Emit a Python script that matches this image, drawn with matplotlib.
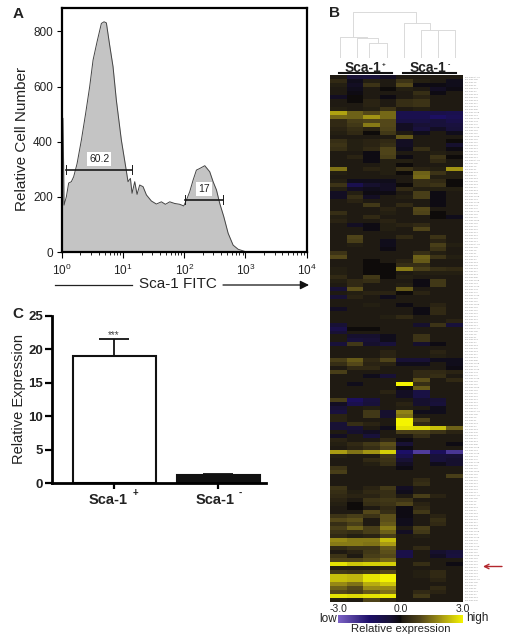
import numpy as np
import matplotlib
matplotlib.use("Agg")
import matplotlib.pyplot as plt
from matplotlib.colors import LinearSegmentedColormap

plt.rcParams['font.family'] = ['Liberation Sans', 'DejaVu Sans']

W, H = 509, 638
TEXT = '#222222'

# panel A, flow histogram (log10 of FITC intensity, cell count)
fitc_log = [0.0, 0.016, 0.027, 0.033, 0.071, 0.109, 0.153, 0.191, 0.246, 0.317, 0.387, 0.453, 0.508, 0.573,
            0.644, 0.688, 0.726, 0.780, 0.835, 0.889, 0.971, 1.042, 1.08, 1.119, 1.146, 1.19, 1.228, 1.271,
            1.326, 1.381, 1.462, 1.544, 1.626, 1.692, 1.763, 1.844, 1.926, 1.992, 2.035, 2.09, 2.145, 2.199,
            2.254, 2.336, 2.417, 2.472, 2.527, 2.581, 2.647, 2.718, 2.799, 2.881, 2.99, 3.127]
cell_count = [0, 485, 309, 170, 200, 250, 255, 273, 320, 406, 503, 600, 696, 762,
              829, 835, 831, 750, 672, 551, 406, 309, 255, 267, 213, 255, 209, 243,
              237, 207, 185, 174, 182, 173, 182, 176, 173, 167, 188, 219, 261, 297,
              303, 313, 291, 255, 225, 176, 128, 68, 25, 10, 2, 0]
gate_names = ['60.2', '17']
gate_lo = [0.071, 2.014]
gate_hi = [1.146, 2.63]
gate_level = [297, 187]
gate_label_level = [337, 228]

# panel C
bar_names = ['Sca-1', 'Sca-1']
bar_signs = ['+', '-']
bar_values = [19.0, 1.2]
bar_errors = [2.5, 0.1]

# panel B, dendrogram merges: left, right, height, left start, right start
dendro_merges = [(2.34, 3.43, 44, 0, 0), (1.62, 2.9, 59, 0, 44), (0.6, 2.2, 64, 0, 59),
                 (5.47, 6.49, 84, 0, 0), (6.49, 7.51, 84, 0, 0), (4.43, 6.0, 104, 0, 84),
                 (1.4, 5.2, 137, 64, 104)]
mir_ids = ['let-7a', '15b', '16', '21', '23a', '24', '26a', '27b', '29a', '30c', '92a', '99b', '125b', '126',
           '130a', '143', '145', '146a', '150', '155', '181a', '191', '195', '221', '222', '320', '424', '451']

# panel B, heatmap rows, columns are 4 Sca-1+ then 4 Sca-1-
expression = np.array([
    [.1, -.5, -.6, -.3, .1, .1, .1, .1], [.4, -.2, .2, .1, .6, .2, .1, -.2], [.2, -.3, .6, .1, 1.0, -.1, -.1, -.2],
    [.1, -.2, .1, 0, .2, .1, -.3, -.1], [.1, -.1, .1, .1, .1, .5, -.1, .1], [-.3, 0, .1, -.1, .1, .3, .1, .1],
    [.1, 0, .3, .1, .5, .6, .1, .1], [.1, .1, .3, .1, .5, .6, .1, .1], [.2, .1, .2, .6, .1, .2, .1, .1],
    [2.1, 1.3, 1.0, 1.4, -1, -1, -.9, -1], [1.4, 1.3, 1.9, 1.4, -1, -1, -1.4, -1.1], [.4, .8, .9, 1.0, -.8, -.8, -.6, -.9],
    [.4, .7, 1.6, 1, -.3, -.5, -.6, -.7], [.3, .5, .3, .9, -.3, -.7, -.3, -.6], [.2, .4, 0, .7, .1, -.2, .1, -.2],
    [.1, .1, .1, .1, 1.2, .1, .1, .1], [.5, .2, .3, .4, -.3, .1, .1, 0], [.6, .2, .3, .5, -.3, .1, .1, -.4],
    [.5, .2, .4, .9, -.2, .5, .1, -.1], [.1, .1, -.1, .9, .1, .1, .2, .1], [.1, .3, -.1, .8, -.1, .1, .6, 0],
    [.1, .1, -.1, .2, .2, .1, .4, .1], [.1, .1, .1, .2, 0, .1, .1, .1], [1.5, .1, .3, .2, .6, .3, .2, 1.9],
    [.2, .1, .1, .2, 0, 1.3, .6, .2], [.1, .1, .1, .1, .1, 1.4, .2, .2], [.2, -.2, -.2, -.2, .1, .5, .4, 0],
    [.6, -1, -.4, -.3, 0, .5, .6, 0], [.2, -.3, -.2, -.3, .4, .2, .2, .2], [-.3, .2, -.1, -.1, .1, .8, -.1, .1],
    [-.3, .5, -.3, .1, .2, .8, -.1, .1], [.1, .3, .1, .1, .1, .1, -.1, .1], [.1, .1, .7, .1, .4, .1, -.1, .1],
    [.1, .1, .1, .3, .1, 1.0, .1, .1], [.5, .1, .1, .2, .1, .9, 0, .1], [.2, .1, .4, .1, .1, .1, 0, -.2],
    [.3, .1, .1, .3, .1, .1, .1, .1], [.1, -.3, -.1, .2, .3, .4, .1, .1], [.1, .1, -.1, .2, .1, .9, .1, .1],
    [.1, .1, .1, .1, .1, .1, .1, .1], [.1, .9, .1, .1, .4, .1, .6, .1], [.1, .8, .1, -.2, .1, .1, .3, .1],
    [.1, .2, .1, -.2, .1, .1, .8, .2], [.1, .1, .1, -.1, .1, .1, .6, .1], [.6, .1, .1, .1, .1, .5, .2, .1],
    [1.0, .1, .1, .1, .1, 1.3, .6, .2], [.1, .1, 0, .1, .3, 1.2, .1, .1], [.1, .1, 0, 0, .5, .5, .1, .1],
    [.2, .1, 0, 0, 1.6, .8, .5, .4], [.2, .1, 0, 0, .1, .2, .2, .2], [.4, .1, .7, 0, .2, .1, .1, .1],
    [.2, .4, .5, .1, .1, -.1, .7, .1], [.1, .4, .1, .1, .2, -.1, .7, .1], [-.5, 1.1, .1, .1, 1.2, .1, .1, .1],
    [.1, .2, .3, .3, 0, .3, .1, .1], [-.5, .3, .1, -.2, .1, .1, .1, .1], [.1, .1, .1, .1, .1, .1, .1, .1],
    [.1, .1, .2, .1, -.1, .1, .3, .1], [-.3, .1, .1, .1, .1, -.1, .4, .1], [.1, .1, .1, .1, .1, -.1, .4, .1],
    [.1, .1, .1, .2, .4, .1, .1, .1], [.1, .1, .1, .1, .1, .1, .1, .3], [-.5, .1, .1, .1, .1, -.4, .6, -.6],
    [-.9, 0, 0, .1, .1, .1, .1, .1], [-.5, .1, .1, .1, .1, .1, .1, .1], [.1, -.4, -.4, -.2, .1, .6, .1, .1],
    [.1, -.6, -.5, -.2, .1, .6, .1, .1], [-.6, .7, -.4, -.6, .1, -.4, -.1, .1], [.1, .1, .1, .1, .1, .1, .1, .1],
    [.1, .1, .1, .3, .1, .1, .3, .1], [.1, .1, .1, .3, .1, .1, .2, .1], [.8, 1.2, .4, .9, -.5, -.5, -.2, -.2],
    [.5, 1.0, .3, .3, -.2, -.2, .1, -.2], [.1, .4, .4, .1, .1, .1, .1, -.1], [.8, .1, .1, .1, .1, .4, .4, .3],
    [.1, .1, -.2, -.5, .1, .4, .5, .1], [.1, .1, .1, .1, .1, 1.1, .1, .4], [.1, -.2, .1, .1, 3.0, .5, .1, .1],
    [.1, .1, .1, .1, 0, 1.2, .1, .1], [.1, .1, .1, .3, -.3, -.8, .1, .1], [.1, .1, .1, .1, -.3, -.8, .1, .1],
    [.8, -1.3, -.7, .1, .1, -.4, -.5, .1], [-.3, -1, -.6, .1, .3, -.4, -.6, .1], [-.5, .1, .2, .1, .2, .1, -.2, .1],
    [-.7, .1, .7, -.4, 1.7, -.2, -.2, .1], [.3, .1, .7, -.4, 1.5, .1, .1, .1], [.3, .1, .1, .1, 3, .9, .1, .1],
    [-.5, .5, .3, .1, 3, .4, .1, .1], [-.5, -.5, .1, -.2, 2.8, 2.7, 2.4, 1.3], [.1, -.4, -.3, .1, .8, .8, .6, .3],
    [-.3, .1, -.6, .1, .1, .5, .1, .1], [.3, .1, .1, .4, -.1, .1, .1, .1], [.2, .4, .7, 1.1, -.5, .1, .1, -.1],
    [.1, .3, .5, .9, -.1, .1, .1, .1], [2.0, 1.5, 1.9, 2.6, -1.5, -2.3, -1.2, -2.2], [.2, .1, .1, .7, -1.0, .1, -.6, -.5],
    [.1, .1, .4, .6, -.5, .1, -.6, -.4], [.1, .1, .2, .5, -.3, .1, -.2, -.4], [.6, .1, .1, .1, -.1, .1, .1, .1],
    [.8, .1, .1, .1, .1, .1, .1, .1], [.1, .1, .1, .1, .1, .1, .1, .8], [.1, .1, .1, .1, .1, .4, .1, .1],
    [.1, .1, .1, .1, .1, .5, .1, .1], [.6, .1, .3, .7, -.3, .1, .1, .1], [.5, .2, .4, .5, -.2, .1, .1, .1],
    [.4, .3, .3, .5, .1, .8, .3, .1], [.3, .1, .6, .7, .6, .1, .1, .1], [.2, 0, .5, .6, .9, .3, .1, .1],
    [.1, 0, .1, .4, -.1, .4, .1, .1], [.1, .1, 1.0, .5, -.1, .7, .1, .1], [.6, .8, .6, 1.1, -.1, .1, .3, .1],
    [1.0, 1.1, .1, 1.1, -.2, .1, .5, .1], [.5, .8, .1, 1.2, -.2, .1, .4, .1], [.8, 1.3, .8, 1.6, .1, .8, .1, .1],
    [.6, .5, .8, 1.3, -.3, .7, .1, .1], [.4, .2, .3, .8, .1, .2, .1, .1], [1.8, 1.6, 1.6, 2.4, .1, .1, .1, .1],
    [1.6, 1.6, 1.5, 2.0, .1, .1, .1, .1], [.4, .6, .6, 1.2, .1, .4, .1, .1], [.1, .3, .7, 1.1, -.9, .1, -.4, -.6],
    [.6, .1, .8, 1.0, -.9, .1, -.3, -.7], [.9, .9, 1.1, 1.4, .1, .1, .1, .1], [2.8, 2.5, 2.6, 2.6, .1, .5, .1, -.1],
    [.2, .2, .2, .3, .1, .1, .1, .1], [.7, .6, .7, 1.0, .1, .2, .4, .1], [2.4, 2.3, 2.8, 3.0, .1, .2, .4, .1],
    [2.4, 2.3, 2.8, 3, .1, .1, .3, .1], [1.8, 1.5, 2.2, 2.5, .1, .1, .1, .1], [1.3, 1.0, 1.8, 1.8, .1, .1, .4, .1],
    [1.0, .8, 1.2, 1.5, .1, .4, .3, .1], [2.8, 2.7, 2.8, 2.9, .1, .7, .1, .1], [.2, .1, .9, .4, .1, .1, .1, .1],
])


def px_axes(fig, left, top, right, bottom):
    # axes placed by pixel edges of the 509x638 picture
    return fig.add_axes([left / W, 1 - bottom / H, (right - left) / W, (bottom - top) / H])


def px_text(fig, x, y, s, **kw):
    kw.setdefault('ha', 'center')
    kw.setdefault('va', 'center')
    kw.setdefault('color', TEXT)
    fig.text(x / W, 1 - y / H, s, **kw)


fig = plt.figure(figsize=(W / 100, H / 100), dpi=100)

# A
ax = px_axes(fig, 62, 8, 306.5, 252)
ax.fill_between(10 ** np.array(fitc_log), cell_count, color='#c4c4c4', lw=0)
ax.plot(10 ** np.array(fitc_log), cell_count, color='#444444', lw=0.7)
ax.set_xscale('log')
ax.set_xlim(1, 1e4)
ax.set_ylim(0, 885)
ax.set_yticks([0, 200, 400, 600, 800])
ax.tick_params(axis='y', labelsize=8.5, length=3.5, width=0.8, pad=3, labelcolor=TEXT)
ax.tick_params(axis='x', which='major', labelsize=8.5, length=4, width=0.8, pad=4, labelcolor=TEXT)
ax.tick_params(axis='x', which='minor', length=2.5, width=0.6)
ax.xaxis.set_minor_locator(matplotlib.ticker.LogLocator(base=10, subs=np.arange(2, 10), numticks=10))
ax.xaxis.set_minor_formatter(matplotlib.ticker.NullFormatter())
for s in ax.spines.values():
    s.set_linewidth(1.6)
for name, lo, hi, level, lab in zip(gate_names, gate_lo, gate_hi, gate_level, gate_label_level):
    ax.plot([10 ** lo, 10 ** hi], [level, level], color='#1a1a1a', lw=1.2)
    ax.plot([10 ** lo, 10 ** lo], [level - 14, level + 20], color='#1a1a1a', lw=0.7)
    ax.plot([10 ** hi, 10 ** hi], [level - 14, level + 20], color='#1a1a1a', lw=0.7)
    ax.text(10 ** ((lo + hi) / 2), lab, name, ha='center', va='center', fontsize=7.5, color=TEXT,
            bbox=dict(fc='white', ec='none', pad=1.5))
px_text(fig, 22, 139, 'Relative Cell Number', fontsize=11, rotation=90)

overlay = fig.add_axes([0, 0, 1, 1])
overlay.set_xlim(0, W)
overlay.set_ylim(H, 0)
overlay.axis('off')
overlay.plot([55, 132.5], [285, 285], color='#222222', lw=0.9)
overlay.annotate('', xy=(309, 285), xytext=(223, 285),
                 arrowprops=dict(arrowstyle='-|>', color='#111111', lw=0.9, mutation_scale=13, shrinkA=0, shrinkB=0))
px_text(fig, 178, 284, 'Sca-1 FITC', fontsize=11)
px_text(fig, 18, 14, 'A', fontsize=11, fontweight='bold')
px_text(fig, 334, 13, 'B', fontsize=11, fontweight='bold')
px_text(fig, 18, 314, 'C', fontsize=11, fontweight='bold')

# B dendrogram
dn = px_axes(fig, 330, 11, 463, 58)
dn.set_xlim(0, 8)
dn.set_ylim(0, 141)
dn.axis('off')
for xl, xr, h, yl, yr in dendro_merges:
    dn.plot([xl, xl, xr, xr], [yl, h, h, yr], color='#dadada', lw=0.7)

# B group headers
overlay.plot([339, 392], [73, 73], color='#111111', lw=1.5)
overlay.plot([403, 456], [73, 73], color='#111111', lw=1.5)
px_text(fig, 363, 67.5, 'Sca-1', fontsize=10, fontweight='bold')
px_text(fig, 384, 65, '+', fontsize=4.5, fontweight='bold')
px_text(fig, 428, 67.5, 'Sca-1', fontsize=10, fontweight='bold')
px_text(fig, 449, 65, '-', fontsize=5, fontweight='bold')

# B heatmap
heat_cmap = LinearSegmentedColormap.from_list('heat', [
    (0.0, '#7c63c6'), (0.25, '#1d0f68'), (0.42, '#181234'), (0.5, '#0c0a0a'), (0.517, '#1f1a12'),
    (0.667, '#54481a'), (0.833, '#a89a14'), (1.0, '#f4f400')])
hm = px_axes(fig, 330, 75, 463, 602)
im = hm.imshow(expression, aspect='auto', cmap=heat_cmap, vmin=-3, vmax=3, interpolation='nearest')
hm.set_xticks([])
row_ticks = np.linspace(0, len(expression) - 1, 176)
hm.set_yticks(row_ticks)
hm.set_yticklabels(['hsa-miR-' + mir_ids[i % len(mir_ids)] for i in range(176)], fontsize=1.7, color='#999999')
hm.yaxis.tick_right()
hm.tick_params(axis='y', length=0, pad=1.5)
for s in hm.spines.values():
    s.set_visible(False)

overlay.annotate('', xy=(483, 566.5), xytext=(502, 566.5),
                 arrowprops=dict(arrowstyle='->', color='#b3272d', lw=1, mutation_scale=8, shrinkA=0, shrinkB=0))

# B colour scale
cax = px_axes(fig, 338, 615, 463, 623)
cb = fig.colorbar(im, cax=cax, orientation='horizontal')
cb.outline.set_visible(False)
cb.set_ticks([-3, 0, 3])
cb.set_ticklabels(['-3.0', '0.0', '3.0'])
cax.xaxis.set_ticks_position('top')
cax.tick_params(length=0, pad=1, labelsize=7.5, labelcolor=TEXT)
px_text(fig, 328, 619.5, 'low', fontsize=8.5)
px_text(fig, 477.5, 618, 'high', fontsize=8.5)
px_text(fig, 401, 628.5, 'Relative expression', fontsize=8.2)

# C
bx = px_axes(fig, 51.7, 316, 266, 483)
positions = np.arange(len(bar_values))
bx.bar(positions, bar_values, width=0.8, color=['white', '#111111'], edgecolor='#111111', linewidth=1.5)
bx.errorbar(positions, bar_values, yerr=[[0, 0], bar_errors], fmt='none', ecolor='#111111', elinewidth=1.3,
            capsize=10.5, capthick=1.3)
bx.set_xlim(-0.6, 1.46)
bx.set_ylim(0, 25)
bx.set_yticks([0, 5, 10, 15, 20, 25])
bx.set_xticks(positions)
bx.set_xticklabels([])
bx.tick_params(axis='y', length=5, width=1.6, pad=1, labelsize=9.5, labelcolor=TEXT)
bx.tick_params(axis='x', length=4, width=1.6, pad=4)
for t in bx.get_yticklabels():
    t.set_fontweight('bold')
bx.spines['top'].set_visible(False)
bx.spines['right'].set_visible(False)
bx.spines['left'].set_linewidth(2)
bx.spines['bottom'].set_linewidth(2)
px_text(fig, 19, 399, 'Relative Expression', fontsize=10.5, rotation=90)
bx.text(0, 22.1, '***', ha='center', va='center', fontsize=7, color='#444444')
# the labels sit left of the ticks, with the sign raised after them
for name, sign, x, xs in zip(bar_names, bar_signs, [108.5, 215], [135, 240]):
    px_text(fig, x, 499.5, name, fontsize=10.5, fontweight='bold')
    px_text(fig, xs, 493, sign, fontsize=7, fontweight='bold')

fig.savefig('out.png', dpi=100)
